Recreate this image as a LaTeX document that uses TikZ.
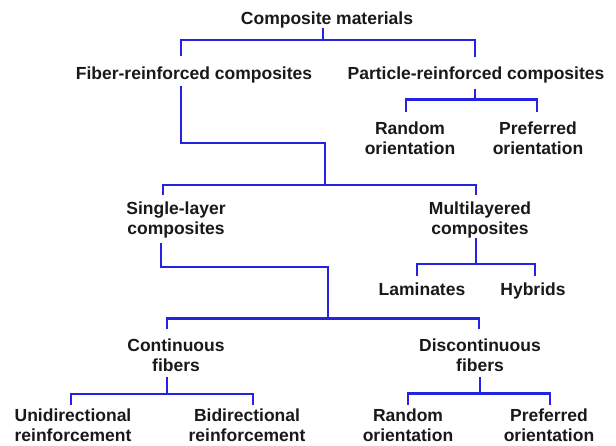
\documentclass[tikz,border=0pt]{standalone}
\usepackage{fontspec}
\setmainfont{Liberation Sans}
\definecolor{lineblue}{RGB}{35,35,225}
\definecolor{txtgray}{RGB}{25,25,25}
\begin{document}
\begin{tikzpicture}[x=1pt,y=-1pt,
  lbl/.style={font=\fontsize{17.5}{20}\selectfont\bfseries, text=txtgray, align=center,
              inner sep=0pt, outer sep=0pt, anchor=north},
  conn/.style={draw=lineblue, line width=2.2pt, line join=miter, line cap=butt}]
\useasboundingbox[fill=white] (0,0) rectangle (616,445);

% nodes
\node[lbl] (cm)  at (327,11.5)  {Composite materials};
\node[lbl] (fib) at (194,66.7)  {Fiber-reinforced composites};
\node[lbl] (par) at (476,66.7)  {Particle-reinforced composites};
\node[lbl] (pr)  at (410,121.7) {Random\\orientation};
\node[lbl] (pp)  at (538,121.7) {Preferred\\orientation};
\node[lbl] (sl)  at (176,201.7) {Single-layer\\composites};
\node[lbl] (ml)  at (480,201.7) {Multilayered\\composites};
\node[lbl] (lam) at (422,282.7) {Laminates};
\node[lbl] (hyb) at (533,282.7) {Hybrids};
\node[lbl] (cf)  at (176,338.7) {Continuous\\fibers};
\node[lbl] (df)  at (480,338.7) {Discontinuous\\fibers};
\node[lbl] (uni) at (73,408.5)  {Unidirectional\\reinforcement};
\node[lbl] (bi)  at (247,408.5) {Bidirectional\\reinforcement};
\node[lbl] (dr)  at (408,408.5) {Random\\orientation};
\node[lbl] (dp)  at (549,408.5) {Preferred\\orientation};

% connectors
\draw[conn, shorten >=10.7pt] (cm.south -| 323,0) -- (323,40) -| (fib.north -| 181,0);
\draw[conn, shorten >=9.7pt]  (cm.south -| 323,0) -- (323,40) -| (par.north -| 475,0);

\draw[conn, shorten <=6pt, shorten >=9.7pt] (par.south -| 475,0) -- (475,99.5) -| (pr.north -| 406,0);
\draw[conn, shorten <=6pt, shorten >=9.7pt] (par.south -| 475,0) -- (475,99.5) -| (pp.north -| 537,0);

\draw[conn, shorten <=3pt, shorten >=6.7pt] (fib.south -| 181,0) -- (181,143) -- (325,143) -- (325,185) -| (sl.north -| 163,0);
\draw[conn, shorten <=3pt, shorten >=6.7pt] (fib.south -| 181,0) -- (181,143) -- (325,143) -- (325,185) -| (ml.north -| 476,0);

\draw[conn, shorten >=6.7pt] (ml.south -| 476,0) -- (476,264) -| (lam.north -| 417,0);
\draw[conn, shorten >=6.7pt] (ml.south -| 476,0) -- (476,264) -| (hyb.north -| 535,0);

\draw[conn, shorten <=5pt, shorten >=9.7pt] (sl.south -| 161,0) -- (161,267) -- (328,267) -- (328,318.5) -| (cf.north -| 167,0);
\draw[conn, shorten <=5pt, shorten >=9.7pt] (sl.south -| 161,0) -- (161,267) -- (328,267) -- (328,318.5) -| (df.north -| 479,0);

\draw[conn, shorten <=5.7pt, shorten >=3.5pt] (cf.south -| 167,0) -- (167,394) -| (uni.north -| 71,0);
\draw[conn, shorten <=5.7pt, shorten >=3.5pt] (cf.south -| 167,0) -- (167,394) -| (bi.north -| 253,0);

\draw[conn, shorten <=5.7pt, shorten >=3.5pt] (df.south -| 480,0) -- (480,393.5) -| (dr.north -| 408,0);
\draw[conn, shorten <=5.7pt, shorten >=3.5pt] (df.south -| 480,0) -- (480,393.5) -| (dp.north -| 550,0);
\end{tikzpicture}
\end{document}
